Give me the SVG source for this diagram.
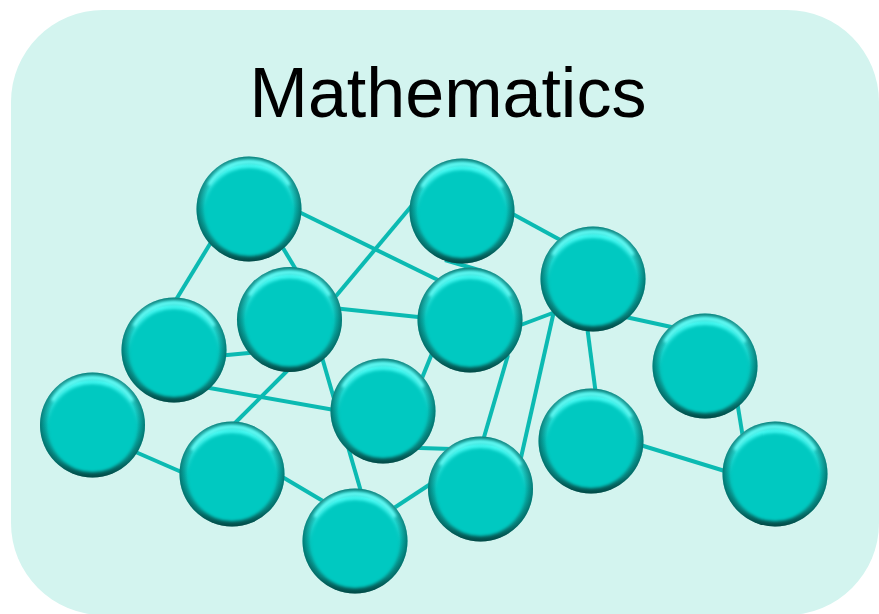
<svg xmlns="http://www.w3.org/2000/svg" xmlns:xlink="http://www.w3.org/1999/xlink" width="879" height="614" viewBox="0 0 879 614">
<style>
.bg{fill:#D3F4EF}
.title{font-family:"Liberation Sans",Arial,sans-serif;font-size:70px;fill:#000}
.edge{stroke:#0BBAB2;stroke-width:4;fill:none}
</style>
<defs>
<linearGradient id="rim" x1="0" y1="0" x2="0" y2="1">
<stop offset="0" stop-color="#1FD2CA"/>
<stop offset="0.1" stop-color="#40F6EF"/>
<stop offset="0.5" stop-color="#06C2BA"/>
<stop offset="0.84" stop-color="#089C95"/>
<stop offset="1" stop-color="#035A55"/>
</linearGradient>
<radialGradient id="edgeShade" cx="0.5" cy="0.5" r="0.5">
<stop offset="0.84" stop-color="#003C3A" stop-opacity="0"/>
<stop offset="1" stop-color="#003C3A" stop-opacity="0.55"/>
</radialGradient>
<filter id="soft" x="-20%" y="-20%" width="140%" height="140%">
<feGaussianBlur stdDeviation="1.8"/>
</filter>
<g id="ball">
<circle r="52.5" fill="url(#rim)"/>
<circle r="52.5" fill="url(#edgeShade)"/>
<path d="M-40,-24 A46,46 0 0 1 40,-24" stroke="#66FFF9" stroke-width="3.5" fill="none" filter="url(#soft)"/>
<circle cx="0" cy="3" r="44" fill="#05C9C1" filter="url(#soft)"/>
</g>
</defs>
<rect class="bg" x="11" y="10" width="868" height="605" rx="92" ry="92"/>
<text class="title" x="448" y="117" text-anchor="middle">Mathematics</text>
<g id="connectors">
<line class="edge" x1="213" y1="239" x2="174" y2="303"/>
<line class="edge" x1="280" y1="243" x2="298" y2="273"/>
<line class="edge" x1="297" y1="211" x2="442" y2="282"/>
<line class="edge" x1="331" y1="302" x2="414" y2="203"/>
<line class="edge" x1="328" y1="307.5" x2="423" y2="317.5"/>
<line class="edge" x1="222" y1="355.5" x2="254" y2="352.5"/>
<line class="edge" x1="204" y1="387" x2="340" y2="411"/>
<line class="edge" x1="290" y1="368" x2="232" y2="426"/>
<line class="edge" x1="321" y1="354" x2="362" y2="495"/>
<line class="edge" x1="433" y1="351" x2="420" y2="383"/>
<line class="edge" x1="518" y1="326" x2="558" y2="311"/>
<line class="edge" x1="445" y1="260" x2="482" y2="271"/>
<line class="edge" x1="509" y1="212" x2="564" y2="242"/>
<line class="edge" x1="554" y1="311" x2="520" y2="462"/>
<line class="edge" x1="508" y1="355" x2="482" y2="444"/>
<line class="edge" x1="587" y1="326" x2="596" y2="395"/>
<line class="edge" x1="621" y1="316" x2="676" y2="328"/>
<line class="edge" x1="737" y1="401" x2="743" y2="438"/>
<line class="edge" x1="637" y1="444" x2="728" y2="472"/>
<line class="edge" x1="388" y1="447" x2="452" y2="449"/>
<line class="edge" x1="391" y1="510" x2="432" y2="483"/>
<line class="edge" x1="131" y1="450" x2="186" y2="474"/>
<line class="edge" x1="279" y1="475" x2="328" y2="504"/>
</g>
<g id="node1"><use xlink:href="#ball" href="#ball" x="249" y="209"/></g>
<g id="node2"><use xlink:href="#ball" href="#ball" x="462" y="211"/></g>
<g id="node3"><use xlink:href="#ball" href="#ball" x="593" y="279"/></g>
<g id="node4"><use xlink:href="#ball" href="#ball" x="289.5" y="319.5"/></g>
<g id="node5"><use xlink:href="#ball" href="#ball" x="470" y="320"/></g>
<g id="node6"><use xlink:href="#ball" href="#ball" x="174" y="350"/></g>
<g id="node7"><use xlink:href="#ball" href="#ball" x="705" y="366"/></g>
<g id="node8"><use xlink:href="#ball" href="#ball" x="92.5" y="425"/></g>
<g id="node9"><use xlink:href="#ball" href="#ball" x="383" y="411"/></g>
<g id="node10"><use xlink:href="#ball" href="#ball" x="232" y="474"/></g>
<g id="node11"><use xlink:href="#ball" href="#ball" x="591" y="441"/></g>
<g id="node12"><use xlink:href="#ball" href="#ball" x="480.5" y="489"/></g>
<g id="node13"><use xlink:href="#ball" href="#ball" x="775" y="474"/></g>
<g id="node14"><use xlink:href="#ball" href="#ball" x="355" y="541"/></g>
</svg>
